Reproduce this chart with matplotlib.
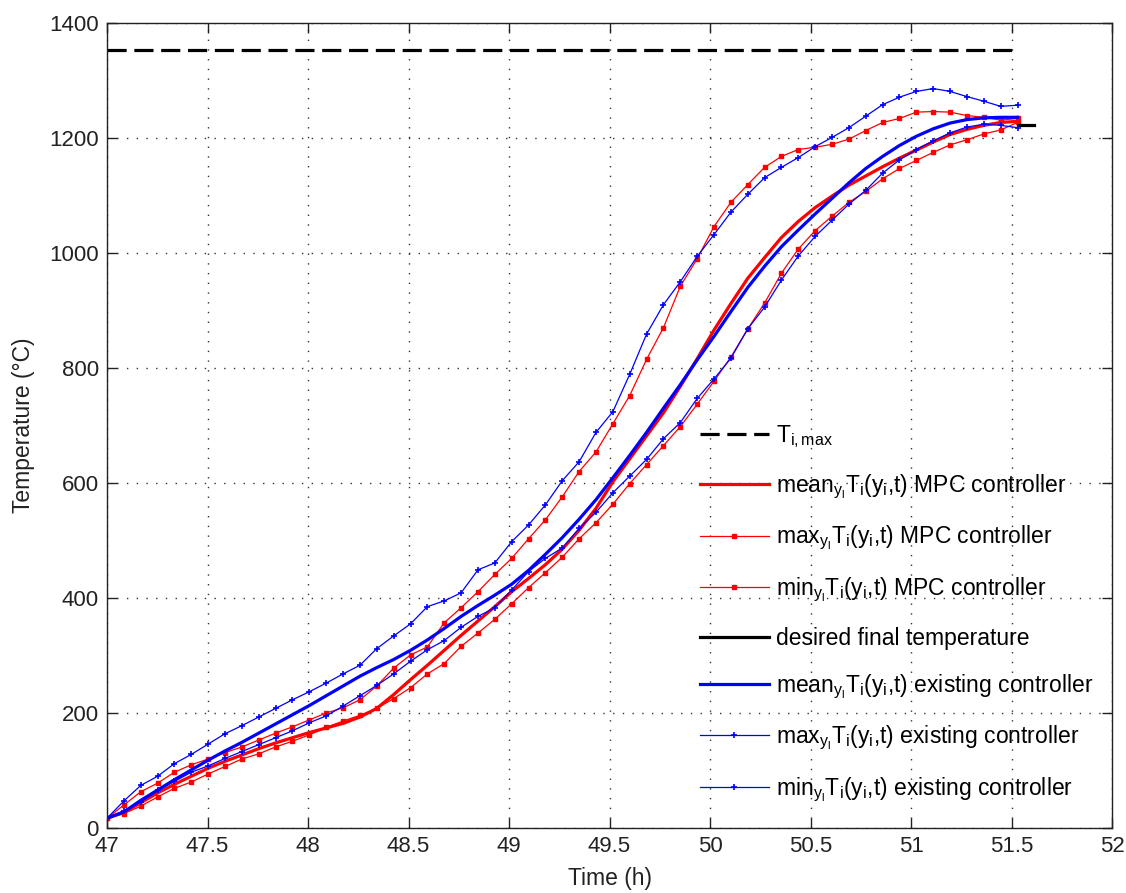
import numpy as np
import matplotlib
matplotlib.use("Agg")
import matplotlib.pyplot as plt

plt.rcParams['font.family'] = ['Liberation Sans', 'DejaVu Sans']
plt.rcParams['mathtext.fontset'] = 'custom'
plt.rcParams['mathtext.rm'] = 'Liberation Sans'
plt.rcParams['mathtext.it'] = 'Liberation Sans'
plt.rcParams['mathtext.bf'] = 'Liberation Sans'

# time axis (h), 5-minute samples
time_h = np.linspace(47.0, 51.53, 55)

mpc_mean = [17, 27, 44, 61, 76, 90, 104, 116, 127, 138, 148, 157, 166, 174, 182, 193, 208, 232, 258, 283,
            309, 335, 360, 385, 411, 434, 458, 485, 518, 556, 602, 642, 682, 722, 768, 816, 866, 912, 956, 992,
            1027, 1055, 1079, 1099, 1118, 1134, 1150, 1165, 1179, 1193, 1206, 1215, 1222, 1227, 1229]
mpc_max = [17, 40, 63, 78, 97, 110, 120, 131, 141, 153, 165, 176, 188, 200, 209, 223, 247, 278, 301, 315,
           357, 383, 411, 441, 469, 503, 536, 576, 620, 654, 703, 752, 815, 870, 942, 990, 1046, 1088, 1119, 1149,
           1168, 1180, 1184, 1189, 1198, 1213, 1227, 1234, 1245, 1246, 1245, 1239, 1236, 1231, 1234]
mpc_min = [17, 25, 38, 54, 69, 80, 94, 107, 120, 129, 141, 151, 162, 175, 186, 196, 208, 225, 244, 268,
           286, 316, 339, 363, 390, 418, 444, 471, 503, 531, 563, 599, 632, 665, 698, 737, 777, 819, 868, 913,
           965, 1007, 1039, 1064, 1088, 1107, 1129, 1147, 1161, 1175, 1188, 1197, 1207, 1214, 1227]
ex_mean = [17, 28, 48, 66, 84, 101, 118, 134, 149, 165, 181, 197, 213, 230, 247, 264, 279, 293, 309, 327,
           347, 368, 387, 405, 424, 448, 476, 505, 537, 571, 609, 648, 688, 730, 771, 814, 855, 898, 940, 977,
           1011, 1040, 1068, 1095, 1122, 1147, 1168, 1187, 1203, 1216, 1226, 1232, 1235, 1236, 1236]
ex_max = [17, 47, 74, 90, 112, 128, 146, 164, 178, 193, 208, 223, 237, 252, 268, 283, 312, 334, 355, 385,
          395, 409, 449, 461, 498, 527, 562, 604, 637, 688, 724, 789, 859, 910, 950, 994, 1032, 1071, 1102, 1131,
          1149, 1166, 1185, 1201, 1218, 1238, 1258, 1271, 1281, 1286, 1281, 1272, 1264, 1255, 1257]
ex_min = [17, 30, 45, 66, 81, 97, 108, 121, 133, 145, 157, 169, 183, 195, 212, 230, 248, 268, 290, 310,
          326, 349, 368, 383, 414, 446, 469, 487, 521, 549, 583, 612, 641, 677, 705, 747, 781, 817, 868, 906,
          953, 995, 1029, 1057, 1085, 1109, 1139, 1162, 1180, 1195, 1209, 1219, 1224, 1222, 1218]

t_max_value = 1353
t_max_span = [47.0, 51.53]
desired_value = 1223
desired_span = [51.53, 51.61]

x_ticks = [47, 47.5, 48, 48.5, 49, 49.5, 50, 50.5, 51, 51.5, 52]
x_ticklabels = ['47', '47.5', '48', '48.5', '49', '49.5', '50', '50.5', '51', '51.5', '52']
y_ticks = [0, 200, 400, 600, 800, 1000, 1200, 1400]

labels = [
    r'T$_{\mathregular{i,max}}$',
    r'mean$_{\mathregular{y_l}}$T$_{\mathregular{i}}$(y$_{\mathregular{i}}$,t) MPC controller',
    r'max$_{\mathregular{y_l}}$T$_{\mathregular{i}}$(y$_{\mathregular{i}}$,t) MPC controller',
    r'min$_{\mathregular{y_l}}$T$_{\mathregular{i}}$(y$_{\mathregular{i}}$,t) MPC controller',
    'desired final temperature',
    r'mean$_{\mathregular{y_l}}$T$_{\mathregular{i}}$(y$_{\mathregular{i}}$,t) existing controller',
    r'max$_{\mathregular{y_l}}$T$_{\mathregular{i}}$(y$_{\mathregular{i}}$,t) existing controller',
    r'min$_{\mathregular{y_l}}$T$_{\mathregular{i}}$(y$_{\mathregular{i}}$,t) existing controller',
]

W, H = 1126, 893
fig = plt.figure(figsize=(W / 100, H / 100), dpi=100)
ax = fig.add_axes([107 / W, 1 - 828 / H, (1112 - 107) / W, (828 - 23) / H])

red = (1, 0, 0)
blue = (0, 0, 1)

ax.plot(t_max_span, [t_max_value, t_max_value], color='k', lw=2.3, dashes=(6, 2.4), label=labels[0])
ax.plot(time_h, mpc_mean, color=red, lw=2.3, label=labels[1])
ax.plot(time_h, mpc_max, color=red, lw=0.9, marker='s', ms=3.2, mec=red, mfc=red, label=labels[2])
ax.plot(time_h, mpc_min, color=red, lw=0.9, marker='s', ms=3.2, mec=red, mfc=red, label=labels[3])
ax.plot(desired_span, [desired_value, desired_value], color='k', lw=2.3, label=labels[4])
ax.plot(time_h, ex_mean, color=blue, lw=2.3, label=labels[5])
ax.plot(time_h, ex_max, color=blue, lw=0.9, marker='+', ms=4.5, mew=1.2, label=labels[6])
ax.plot(time_h, ex_min, color=blue, lw=0.9, marker='+', ms=4.5, mew=1.2, label=labels[7])

ax.set_xlim(47, 52)
ax.set_ylim(0, 1400)
ax.set_xticks(x_ticks)
ax.set_xticklabels(x_ticklabels)
ax.set_yticks(y_ticks)
ax.tick_params(direction='in', length=7, width=1, labelsize=16, top=True, right=True, pad=6, colors='#222222')
ax.grid(True, color='#333333', linestyle=(0, (1, 6)), lw=1.0)
for s in ax.spines.values():
    s.set_linewidth(1.0)
    s.set_color('#222222')

ax.set_xlabel('Time (h)', fontsize=16.5, labelpad=7, color='#222222')
ax.set_ylabel('Temperature (\u00b0C)', fontsize=16.5, labelpad=10, color='#222222')

leg = ax.legend(loc='upper left', bbox_to_anchor=(700 / W, 1 - 423 / H), bbox_transform=fig.transFigure,
                frameon=False, fontsize=16.5, handlelength=3.0, handletextpad=0.3, labelspacing=1.0,
                borderpad=0, borderaxespad=0, numpoints=1)

fig.savefig('out.png', dpi=100, facecolor='white')
